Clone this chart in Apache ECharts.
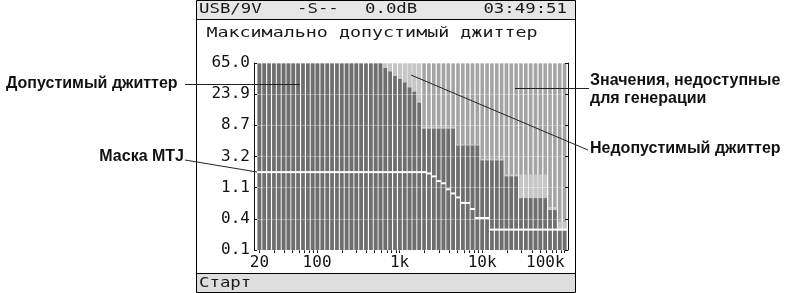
<!DOCTYPE html>
<html>
<head>
<meta charset="utf-8">
<script src="https://cdn.jsdelivr.net/npm/echarts@6/dist/echarts.min.js"></script>
<style>
  html, body { margin: 0; padding: 0; background: #fff; }
  #chart { width: 790px; height: 293px; }
</style>
</head>
<body>
<div id="chart"></div>
<script>
// bar frequencies, Hz (log spaced, 20 Hz .. 100 kHz)
var freqs = [20, 22.9, 26.2, 30, 34.3, 39.3, 45, 51.5, 58.9, 67.5, 77.2, 88.4,
  101, 116, 133, 152, 174, 199, 228, 261, 299, 342, 391, 448, 513, 587, 672, 769,
  880, 1008, 1154, 1321, 1512, 1731, 1981, 2268, 2597, 2972, 3403, 3895, 4459,
  5105, 5844, 6690, 7658, 8767, 10040, 11490, 13150, 15060, 17240, 19730, 22590,
  25860, 29600, 33880, 38790, 44400, 50830, 58190, 66610, 76250, 87290, 99920];

// passed jitter amplitude, UI
var allowedJitter = [65, 65, 65, 65, 65, 65, 65, 65, 65, 65, 65, 65, 65,
  65, 65, 65, 65, 65, 65, 65, 65, 65, 65, 65, 65, 65,
  55.4, 49.5, 42.9, 39.0, 34.9, 29.7, 25.8, 18.1,
  7.9, 7.9, 7.9, 7.9, 7.9, 7.9, 7.9,
  4.6, 4.6, 4.6, 4.6, 4.6,
  2.85, 2.85, 2.85, 2.85, 2.85,
  1.71, 1.71, 1.71,
  0.85, 0.85, 0.85, 0.85, 0.85, 0.85,
  0.58, 0.58,
  0.30, 0.30];

// max amplitude the generator can produce, UI
var generatorMax = [65, 65, 65, 65, 65, 65, 65, 65, 65, 65, 65, 65, 65,
  65, 65, 65, 65, 65, 65, 65, 65, 65, 65, 65, 65, 65,
  65, 65, 65, 65, 65, 65, 65, 65,
  8.4, 8.4, 8.4, 8.4, 8.4, 8.4, 8.4,
  4.75, 4.75, 4.75, 4.75, 4.75,
  3.0, 3.0, 3.0, 3.0, 3.0,
  1.82, 1.82, 1.82,
  1.82, 1.82, 1.82, 1.82, 1.82, 1.82,
  0.64, 0.64,
  0.40, 0.40];

// MTJ mask, UI
var mtjMask = [1.96, 1.96, 1.96, 1.96, 1.96, 1.96, 1.96, 1.96, 1.96, 1.96,
  1.96, 1.96, 1.96, 1.96, 1.96, 1.96, 1.96, 1.96, 1.96, 1.96,
  1.96, 1.96, 1.96, 1.96, 1.96, 1.96, 1.96, 1.96, 1.96, 1.96,
  1.96, 1.96, 1.96, 1.96, 1.96,
  1.88, 1.71, 1.47, 1.37, 1.13, 0.99, 0.87, 0.73, 0.73, 0.60, 0.45, 0.45, 0.45,
  0.31, 0.31, 0.31, 0.31, 0.31, 0.31, 0.31, 0.31,
  0.31, 0.31, 0.31, 0.31, 0.31, 0.31, 0.31, 0.31];

var yTickLabels = ['0.1', '0.4', '1.1', '3.2', '8.7', '23.9', '65.0'];
var xLabelFreqs = [20, 100, 1000, 10000, 100000];
var xTickLabels = ['20', '100', '1k', '10k', '100k'];

var TOP = 65;   // top of the scale, each y step is a factor of e
function ly(v) { return Math.log(v / TOP) + 6; }
function lx(f) { return Math.log10(f); }

// small ticks at 2..9 of every decade
var tickFreqs = [];
[10, 100, 1000, 10000].forEach(function (d) {
  for (var k = 1; k <= 9; k++) {
    if (k * d >= 20) tickFreqs.push(k * d);
  }
});
tickFreqs.push(100000);

var darkData = [], genData = [], maskData = [];
freqs.forEach(function (f, i) {
  darkData.push([lx(f), ly(allowedJitter[i])]);
  genData.push([lx(f), ly(generatorMax[i])]);
  maskData.push([lx(f), ly(mtjMask[i])]);
});

var lcdFont = '14px "DejaVu Sans Mono", monospace';
var noteFont = 'bold 16px "Liberation Sans", Arial, sans-serif';

function lcdText(txt, x, y, align, sx) {
  return {
    type: 'text', x: x, y: y, scaleX: sx || 1.24, z: 20,
    style: { text: txt, font: lcdFont, fill: '#1a1a1a', align: align || 'left', verticalAlign: 'middle' }
  };
}
function note(txt, x, y, align) {
  return {
    type: 'text', x: x, y: y, z: 20,
    style: { text: txt, font: noteFont, fill: '#111', align: align || 'left', verticalAlign: 'middle' }
  };
}
function pointer(x1, y1, x2, y2) {
  return {
    type: 'line', z: 20,
    shape: { x1: x1, y1: y1, x2: x2, y2: y2 },
    style: { stroke: '#222', lineWidth: 1 }
  };
}

var chart = echarts.init(document.getElementById('chart'), null, { renderer: 'canvas' });

chart.setOption({
  animation: false,
  backgroundColor: '#fff',
  grid: { left: 254, top: 63, width: 314, height: 187 },
  xAxis: {
    type: 'value',
    min: 1.2356,
    max: 5.0412,
    axisLine: { show: false },
    splitLine: { show: false },
    axisTick: {
      customValues: tickFreqs.map(lx),
      length: 3,
      lineStyle: { color: '#111' }
    },
    axisLabel: {
      customValues: xLabelFreqs.map(lx),
      margin: 5,
      alignMaxLabel: 'right',
      color: '#111',
      fontFamily: 'DejaVu Sans Mono',
      fontSize: 16,
      formatter: function (v) {
        for (var i = 0; i < xLabelFreqs.length; i++) {
          if (Math.abs(lx(xLabelFreqs[i]) - v) < 1e-6) return xTickLabels[i];
        }
        return '';
      }
    }
  },
  yAxis: [{
    type: 'value',
    min: 0, max: 6, interval: 1,
    z: 4,
    axisLine: { show: true, lineStyle: { color: '#111' } },
    axisTick: { show: true, inside: true, length: 3, lineStyle: { color: '#111' } },
    splitLine: { show: true, lineStyle: { color: 'rgba(255,255,255,0.35)', width: 1 } },
    axisLabel: {
      margin: 4,
      color: '#111',
      fontFamily: 'DejaVu Sans Mono',
      fontSize: 16,
      formatter: function (v) { return yTickLabels[Math.round(v)]; }
    }
  }, {
    type: 'value',
    position: 'right',
    min: 0, max: 6, interval: 1,
    z: 4,
    axisLine: { show: true, lineStyle: { color: '#111' } },
    axisTick: { show: true, inside: true, length: 3, lineStyle: { color: '#111' } },
    splitLine: { show: false },
    axisLabel: { show: false }
  }],
  series: [{
    // background column = values the generator cannot produce
    name: 'Недопустимый джиттер',
    type: 'bar', barWidth: 3.6, barGap: '-100%',
    showBackground: true,
    backgroundStyle: { color: '#a4a4a4', opacity: 1 },
    itemStyle: { color: '#c6c6c6' },
    data: genData
  }, {
    name: 'Допустимый джиттер',
    type: 'bar', barWidth: 3.6, barGap: '-100%',
    itemStyle: { color: '#6e6e6e' },
    data: darkData
  }, {
    name: 'Маска MTJ',
    type: 'scatter', z: 5,
    symbol: 'rect', symbolSize: [5, 2],
    itemStyle: { color: '#fff', opacity: 1 },
    data: maskData
  }],
  graphic: [
    // device screen
    { type: 'rect', z: 15, shape: { x: 197, y: 1, width: 378, height: 18 }, style: { fill: '#e6e6e6' } },
    { type: 'rect', z: 15, shape: { x: 197, y: 274, width: 378, height: 18 }, style: { fill: '#dedede' } },
    { type: 'line', z: 16, shape: { x1: 197, y1: 19.5, x2: 575, y2: 19.5 }, style: { stroke: '#000', lineWidth: 1 } },
    { type: 'line', z: 16, shape: { x1: 197, y1: 273.5, x2: 575, y2: 273.5 }, style: { stroke: '#000', lineWidth: 1 } },
    { type: 'rect', z: 16, shape: { x: 196.5, y: 0.5, width: 379, height: 292 }, style: { fill: 'none', stroke: '#000', lineWidth: 1 } },
    lcdText('USB/9V', 199, 9.5),
    lcdText('-S--', 297, 9.5),
    lcdText('0.0dB', 365, 9.5),
    lcdText('03:49:51', 567, 9.5, 'right'),
    lcdText('Максимально допустимый джиттер', 372, 33, 'center', 1.31),
    lcdText('Старт', 199, 283),
    // callouts
    note('Допустимый джиттер', 6, 84),
    note('Маска MTJ', 184, 157, 'right'),
    note('Значения, недоступные', 590, 81),
    note('для генерации', 590, 99),
    note('Недопустимый джиттер', 590, 149),
    pointer(185, 84.5, 300, 84.5),
    pointer(185, 160, 257, 172),
    pointer(515, 88.5, 589, 88.5),
    pointer(411, 75, 588, 150)
  ]
});
</script>
</body>
</html>
